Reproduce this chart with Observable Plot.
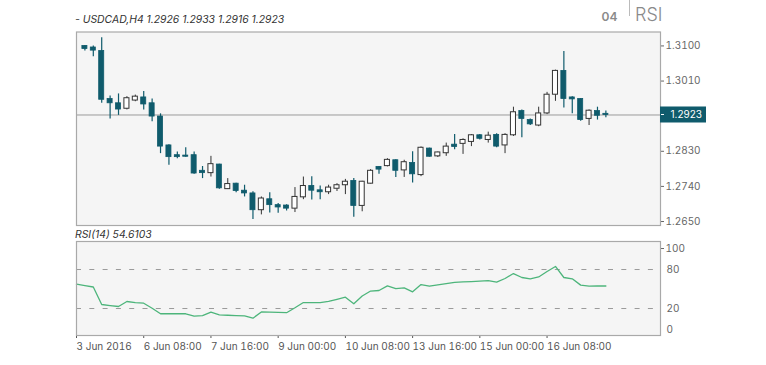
<!DOCTYPE html>
<html><head><meta charset="utf-8">
<script src="https://cdn.jsdelivr.net/npm/d3@7"></script>
<script src="https://cdn.jsdelivr.net/npm/@observablehq/plot@0.6"></script>
<style>
html,body{margin:0;padding:0;background:#fff;}
#wrap{position:relative;width:766px;height:365px;overflow:hidden;font-family:Inter,Lato,sans-serif;}
#main,#rsi,#over{position:absolute;left:0;}
#main{top:0;} #rsi{top:230px;} #over{top:0;pointer-events:none;}
</style></head>
<body>
<div id="wrap"><div id="main"></div><div id="rsi"></div>
<svg id="over" width="766" height="365" font-family="Inter, Lato, sans-serif">
  <text id="hdr" x="75" y="22.5" font-size="10.4" font-style="italic" fill="#333"></text>
  <text id="tf" x="601.5" y="20.7" font-size="12" font-weight="600" fill="#8a8a8a"></text>
  <line x1="629.5" x2="629.5" y1="0" y2="16" stroke="#bbb"></line>
  <text id="ind" x="635" y="20.7" font-size="18" font-weight="300" fill="#8a8a8a"></text>
  <text id="rsilbl" x="75" y="237.5" font-size="10.4" font-style="italic" fill="#333"></text>
</svg>
</div>
<script>
// ---- data ----
const symbolTitle = "- USDCAD,H4 1.2926 1.2933 1.2916 1.2923";
const timeframe = "04";
const indicatorName = "RSI";
const rsiTitle = "RSI(14) 54.6103";
const opens  = [1.3100,1.3096,1.3087,1.2964,1.2953,1.2939,1.2960,1.2968,1.2953,1.2919,1.2845,1.2820,1.2819,1.2820,1.2780,1.2774,1.2796,1.2733,1.2747,1.2729,1.2722,1.2679,1.2707,1.2692,1.2691,1.2683,1.2712,1.2741,1.2730,1.2725,1.2734,1.2743,1.2754,1.2690,1.2747,1.2790,1.2792,1.2807,1.2781,1.2800,1.2769,1.2837,1.2817,1.2825,1.2847,1.2849,1.2854,1.2871,1.2859,1.2872,1.2845,1.2871,1.2933,1.2910,1.2896,1.2927,1.2975,1.3036,1.2968,1.2964,1.2913,1.2933,1.2926];
const highs  = [1.3101,1.3100,1.3121,1.2972,1.2977,1.2970,1.2974,1.2983,1.2964,1.2926,1.2847,1.2828,1.2839,1.2828,1.2791,1.2817,1.2797,1.2760,1.2748,1.2743,1.2726,1.2713,1.2724,1.2696,1.2693,1.2737,1.2764,1.2765,1.2741,1.2743,1.2747,1.2758,1.2760,1.2753,1.2783,1.2791,1.2811,1.2808,1.2807,1.2829,1.2841,1.2838,1.2828,1.2851,1.2873,1.2862,1.2873,1.2873,1.2879,1.2875,1.2875,1.2943,1.2936,1.2913,1.2943,1.2981,1.3038,1.3086,1.2970,1.2965,1.2936,1.2943,1.2933];
const lows   = [1.3087,1.3072,1.2953,1.2913,1.2922,1.2936,1.2957,1.2936,1.2906,1.2824,1.2794,1.2811,1.2815,1.2771,1.2760,1.2764,1.2733,1.2732,1.2724,1.2713,1.2655,1.2667,1.2672,1.2671,1.2677,1.2673,1.2706,1.2705,1.2706,1.2719,1.2727,1.2719,1.2661,1.2675,1.2746,1.2771,1.2790,1.2763,1.2763,1.2749,1.2765,1.2815,1.2814,1.2817,1.2834,1.2822,1.2842,1.2859,1.2851,1.2839,1.2824,1.2868,1.2865,1.2896,1.2893,1.2924,1.2958,1.2941,1.2926,1.2907,1.2896,1.2910,1.2916];
const closes = [1.3092,1.3088,1.2962,1.2953,1.2937,1.2966,1.2970,1.2950,1.2919,1.2842,1.2815,1.2815,1.2816,1.2773,1.2774,1.2797,1.2735,1.2746,1.2728,1.2722,1.2679,1.2709,1.2692,1.2686,1.2683,1.2713,1.2741,1.2729,1.2725,1.2737,1.2743,1.2752,1.2690,1.2752,1.2780,1.2783,1.2808,1.2780,1.2802,1.2771,1.2839,1.2816,1.2827,1.2842,1.2841,1.2859,1.2871,1.2862,1.2870,1.2842,1.2872,1.2930,1.2913,1.2899,1.2927,1.2975,1.3036,1.2964,1.2963,1.2910,1.2934,1.2921,1.2923];
const rsiStart = -1; // first RSI value belongs to the bar just left of the window
const rsiValues = [57.4,55.2,53.1,26.2,24.6,23.1,30.8,29.2,28.2,20.5,15.0,15.0,15.0,15.0,12.7,13.3,16.6,14.0,13.6,13.3,13.0,10.8,16.7,16.5,16.3,16.0,21.1,29.2,29.2,29.2,30.9,34.2,37.4,27.2,39.2,46.9,47.7,54.9,50.5,51.8,45.7,56.9,54.3,56.3,58.2,60.3,60.9,61.5,62.3,62.9,60.6,66.2,73.8,67.7,65.7,68.6,76.9,82.9,67.7,65.7,56.0,54.6,54.9,54.61];
const priceTicks = [1.3100,1.3010,1.2830,1.2740,1.2650];
const rsiLevels = [80,20];
const rsiTickTop = [100];
const rsiTicksOther = [80,20,0];
const timeTickIdx = [-1,7,15,23,31,39,47,55];
const timeTickLabels = ["3 Jun 2016","6 Jun 08:00","7 Jun 16:00","9 Jun 00:00","10 Jun 08:00","13 Jun 16:00","15 Jun 00:00","16 Jun 08:00"];

// ---- styles ----
const teal = "#0f5b6c";
const panelBg = "#f5f5f5";
const border = "#a9a9a9";
const xDomain = [-1, 68.5];
const W = 766, ML = 76, MR = 106;
const baseStyle = {fontFamily:"Inter, Lato, sans-serif", fontSize:"10px", color:"#555", background:"transparent", overflow:"visible"};

document.getElementById("hdr").textContent = symbolTitle;
document.getElementById("tf").textContent = timeframe;
document.getElementById("ind").textContent = indicatorName;
document.getElementById("rsilbl").textContent = rsiTitle;

const bars = opens.map((o,i)=>({i, o, h:highs[i], l:lows[i], c:closes[i]}));
const up = bars.filter(d=>d.c>d.o), dn = bars.filter(d=>d.c<=d.o);
const lastClose = closes[closes.length-1];

const main = Plot.plot({
  width:W, height:230, marginTop:31.5, marginBottom:5, marginLeft:ML, marginRight:MR,
  x:{domain:xDomain, axis:null},
  y:{domain:[1.26398,1.31357], axis:null},
  style:baseStyle,
  marks:[
    Plot.frame({fill:panelBg, stroke:null}),
    Plot.ruleY([lastClose], {stroke:"#9a9a9a", strokeWidth:1}),
    Plot.ruleX(dn, {x:"i", y1:"l", y2:"h", stroke:teal, strokeWidth:1.2}),
    Plot.ruleX(up, {x:"i", y1:"l", y2:"h", stroke:"#333", strokeWidth:1}),
    Plot.rect(dn, {x1:d=>d.i-0.3, x2:d=>d.i+0.3, y1:"o", y2:"c", fill:teal, stroke:teal, strokeWidth:0.8}),
    Plot.rect(up, {x1:d=>d.i-0.3, x2:d=>d.i+0.3, y1:"o", y2:"c", fill:"#fff", stroke:"#333", strokeWidth:1}),
    Plot.axisY(priceTicks, {anchor:"right", label:null, tickSize:3, tickPadding:2, tickFormat:d=>d.toFixed(4), color:"#666"}),
    Plot.frame({stroke:border, strokeWidth:1.2})
  ]
});
// current price tag, positioned through the y scale
{
  const y = main.scale("y").apply(lastClose);
  const x0 = W - MR;
  const g = d3.select(main).append("g").attr("font-family","Inter, Lato, sans-serif").attr("font-size", 10);
  g.append("rect").attr("x", x0).attr("y", y-8).attr("width", 46).attr("height", 16).attr("fill", teal);
  g.append("line").attr("x1", x0+1).attr("x2", x0+4).attr("y1", y).attr("y2", y).attr("stroke", "#fff");
  g.append("text").attr("x", x0+42).attr("y", y).attr("dy","0.35em").attr("fill","#fff")
    .attr("text-anchor","end").text(lastClose.toFixed(4));
}
document.getElementById("main").appendChild(main);

// MT4 labels the window top/bottom as 100 and 0 while the 20/80 levels are linear:
// a piecewise transform keeps 20..80 linear and places 0/100 at the window edges.
const rsiWarp = d3.scaleLinear().domain([0,20,80,100]).range([-12.3,20,80,112.3]);
const labelOf = new Map(timeTickIdx.map((d,k)=>[d, timeTickLabels[k]]));
const rsiPts = rsiValues.map((v,k)=>({i:k+rsiStart, v}));
const rsiPlot = Plot.plot({
  width:W, height:135, marginTop:11, marginBottom:30, marginLeft:ML, marginRight:MR,
  x:{domain:xDomain, axis:null},
  y:{transform:rsiWarp, domain:[-21.5,123.1], axis:null},
  style:baseStyle,
  marks:[
    Plot.frame({fill:panelBg, stroke:null}),
    Plot.ruleY(rsiLevels, {stroke:"#9a9a9a", strokeDasharray:"5,8.3"}),
    Plot.line(rsiPts, {x:"i", y:"v", stroke:"#4db57b", strokeWidth:1.3}),
    Plot.axisY(rsiTickTop, {anchor:"right", label:null, tickSize:3, tickPadding:2, color:"#666", tickFormat:d=>String(d)}),
    Plot.axisY(rsiTicksOther, {anchor:"right", label:null, tickSize:0, tickPadding:6, color:"#666", tickFormat:d=>String(d)}),
    Plot.axisX(timeTickIdx, {anchor:"bottom", label:null, tickSize:3, tickPadding:4, textAnchor:"start", tickFormat:d=>labelOf.get(d), color:"#555"}),
    Plot.frame({stroke:border, strokeWidth:1.2})
  ]
});
document.getElementById("rsi").appendChild(rsiPlot);
</script>
</body></html>
